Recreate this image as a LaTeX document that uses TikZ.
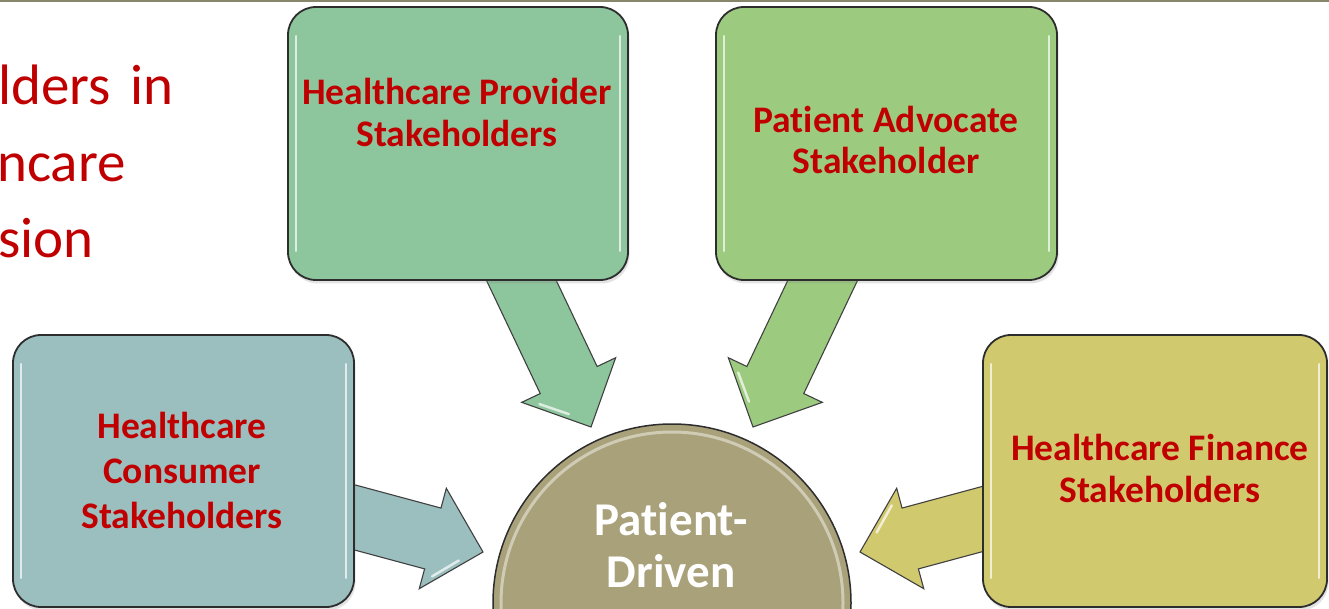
\documentclass[tikz,border=0pt]{standalone}
\usepackage{fontspec}
\setmainfont[Ligatures=NoCommon]{Carlito}
\usetikzlibrary{calc,shadows}
\definecolor{txtred}{RGB}{192,0,0}
\definecolor{provc}{RGB}{141,197,156}
\definecolor{advc}{RGB}{156,203,128}
\definecolor{consc}{RGB}{155,190,191}
\definecolor{finc}{RGB}{209,201,110}
\definecolor{circc}{RGB}{168,161,122}
\definecolor{topline}{RGB}{135,135,108}
\definecolor{edgec}{RGB}{45,45,45}
\newcommand\fatarr[3]{%
  \coordinate (#2-b) at ($(#2)!52pt!(#1)$);
  \coordinate (#2-h) at ($(#2-b)!52pt!270:(#2)$);
  \filldraw[arrowshape, fill=#3]
    ($(#1)!31.5pt!90:(#2)$) -- ($(#2-b)!31.5pt!90:(#2)$) -- ($(#2-b)!52pt!90:(#2)$)
    -- (#2) -- (#2-h) -- ($(#2-b)!31.5pt!270:(#2)$) -- ($(#1)!31.5pt!270:(#2)$) -- cycle;
  \draw[gloss] ($(#2-h)!0.2!(#2)!5pt!(#2-b)$) -- ($(#2-h)!0.68!(#2)!5pt!(#2-b)$);
}
\tikzset{
  box/.style={rectangle, rounded corners=28pt, draw=edgec, line width=1.8pt, inner sep=0pt,
    drop shadow={shadow xshift=1.5pt, shadow yshift=-3.5pt, opacity=0.22}},
  lbl/.style={font=\bfseries\fontsize{37.5}{42}\selectfont, text=txtred, inner sep=0pt, anchor=base},
  pdlbl/.style={font=\bfseries\fontsize{47}{52}\selectfont, text=white, inner sep=0pt, anchor=base},
  ttl/.style={font=\fontsize{57}{66}\selectfont, text=txtred, inner sep=0pt, anchor=base west},
  arrowshape/.style={draw=black!75, line width=1.1pt, line join=miter},
  gloss/.style={white, line width=2.5pt, opacity=0.7, line cap=round},
}
\begin{document}
\begin{tikzpicture}[x=1pt, y=-1pt]
\useasboundingbox (0,0) rectangle (1329,609);
\clip (0,0) rectangle (1329,609);
\fill[white] (0,0) rectangle (1329,609);
\fill[topline] (0,0) rectangle (1329,2.5);

% title fragment
\node[ttl] (t1) at (-2,105) {lders\hspace{20pt}in};
\node[ttl] (t2) at (-3,182) {ncare};
\node[ttl] (t3) at (-2,258) {sion};

% arrows
\coordinate (sP) at (505,246); \coordinate (tP) at (591,427);
\coordinate (sA) at (839,246); \coordinate (tA) at (753,427);
\coordinate (sC) at (290,500); \coordinate (tC) at (483,552);
\coordinate (sF) at (1053,500); \coordinate (tF) at (860,552);
\fatarr{sP}{tP}{provc}
\fatarr{sA}{tA}{advc}
\fatarr{sC}{tC}{consc}
\fatarr{sF}{tF}{finc}

% boxes
\node[box, fill=provc, minimum width=340pt, minimum height=273pt] (prov) at (458,143.5) {};
\node[box, fill=advc, minimum width=341pt, minimum height=273pt] (adv) at (886.5,143.5) {};
\node[box, fill=consc, minimum width=341pt, minimum height=272pt] (cons) at (183.5,471) {};
\node[box, fill=finc, minimum width=344pt, minimum height=272pt] (fin) at (1155,471) {};
\foreach \b in {prov,adv,cons,fin} {
  \draw[gloss] ($(\b.north west)+(9,30)$) -- ($(\b.south west)+(9,-30)$);
  \draw[gloss] ($(\b.north east)+(-9,30)$) -- ($(\b.south east)+(-9,-30)$);
}

% centre circle
\node[circle, fill=circc, draw=edgec, line width=1.5pt, minimum size=358pt, inner sep=0pt] (pd) at (672,603) {};
\draw[white, opacity=0.45, line width=3pt] (pd.center) circle[radius=171pt];

% labels
\node[lbl] (prov1) at (457,105) {Healthcare Provider};
\node[lbl] (prov2) at (457,147) {Stakeholders};
\node[lbl] (adv1) at (886,133) {Patient Advocate};
\node[lbl] (adv2) at (886,174) {Stakeholder};
\node[lbl] (cons1) at (182,438) {Healthcare};
\node[lbl] (cons2) at (182,483) {Consumer};
\node[lbl] (cons3) at (182,528) {Stakeholders};
\node[lbl] (fin1) at (1160,460) {Healthcare Finance};
\node[lbl] (fin2) at (1160,502) {Stakeholders};
\node[pdlbl] (pd1) at (671,535) {Patient-};
\node[pdlbl] (pd2) at (671,587) {Driven};
\end{tikzpicture}
\end{document}
